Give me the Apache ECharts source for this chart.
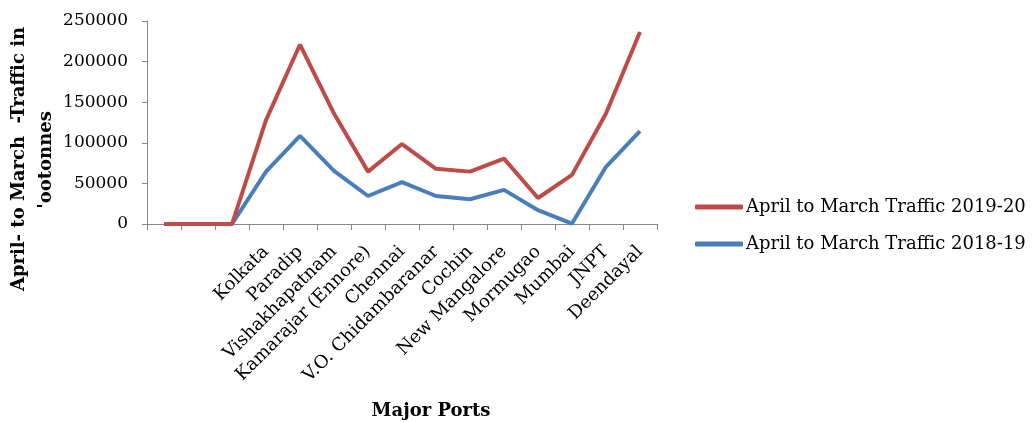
<!DOCTYPE html>
<html>
<head>
<meta charset="utf-8">
<script src="https://cdn.jsdelivr.net/npm/echarts@6/dist/echarts.min.js"></script>
<style>html,body{margin:0;padding:0;background:#fff}#c{width:1033px;height:422px}</style>
</head>
<body>
<div id="c"></div>
<script>
const categories = [' ', '  ', '   ', 'Kolkata', 'Paradip', 'Vishakhapatnam', 'Kamarajar (Ennore)', 'Chennai', 'V.O. Chidambaranar', 'Cochin', 'New Mangalore', 'Mormugao', 'Mumbai', 'JNPT', 'Deendayal'];
const traffic2019_20 = [0, 0, 0, 128000, 221000, 136000, 64500, 98500, 68000, 64500, 80500, 32000, 60500, 136000, 236500];
const traffic2018_19 = [0, 0, 0, 64500, 108500, 65500, 34500, 51500, 34500, 30500, 42000, 17000, 500, 70500, 114500];
const yTicks = [0, 50000, 100000, 150000, 200000, 250000];
const seriesNames = ['April to March Traffic 2019-20', 'April to March Traffic 2018-19'];

const FONT = 'DejaVu Serif';
const chart = echarts.init(document.getElementById('c'), null, {renderer: 'canvas'});
chart.setOption({
  animation: false,
  grid: {left: 147, right: 376, top: 21, bottom: 198, containLabel: false},
  legend: {
    data: seriesNames,
    orient: 'vertical',
    left: 690, top: 193,
    itemGap: 19,
    itemWidth: 48, itemHeight: 5,
    icon: 'roundRect',
    textStyle: {fontFamily: FONT, fontSize: 18, color: '#000', padding: [0, 0, 0, -2]}
  },
  xAxis: {
    type: 'category',
    data: categories,
    boundaryGap: true,
    axisLine: {lineStyle: {color: '#888', width: 1}},
    axisTick: {show: true, length: 6, lineStyle: {color: '#888'}},
    axisLabel: {interval: 0, rotate: 45, fontFamily: FONT, fontSize: 18, color: '#000', margin: 25}
  },
  yAxis: {
    type: 'value',
    min: yTicks[0], max: yTicks[yTicks.length - 1], interval: 50000,
    splitLine: {show: false},
    axisLine: {show: true, lineStyle: {color: '#888', width: 1}},
    axisTick: {show: true, length: 5, lineStyle: {color: '#888'}},
    axisLabel: {fontFamily: FONT, fontSize: 17, color: '#000', margin: 19, formatter: v => String(v)}
  },
  graphic: [
    {type: 'text', x: 19, y: 159, rotation: Math.PI / 2,
     style: {text: 'April- to March  -Traffic in', font: 'bold 18px "DejaVu Serif"', fill: '#000', textAlign: 'center', textVerticalAlign: 'middle'}},
    {type: 'text', x: 46, y: 160, rotation: Math.PI / 2,
     style: {text: "'ootonnes", font: 'bold 18px "DejaVu Serif"', fill: '#000', textAlign: 'center', textVerticalAlign: 'middle'}},
    {type: 'text', x: 431, y: 411,
     style: {text: 'Major Ports', font: 'bold 18px "DejaVu Serif"', fill: '#000', textAlign: 'center', textVerticalAlign: 'middle'}}
  ],
  series: [
    {name: seriesNames[1], type: 'line', data: traffic2018_19, showSymbol: false, symbol: 'none',
     lineStyle: {color: '#4A7EBB', width: 4}, itemStyle: {color: '#4A7EBB'}, z: 2},
    {name: seriesNames[0], type: 'line', data: traffic2019_20, showSymbol: false, symbol: 'none',
     lineStyle: {color: '#BE4B48', width: 4}, itemStyle: {color: '#BE4B48'}, z: 3}
  ]
});
</script>
</body>
</html>
